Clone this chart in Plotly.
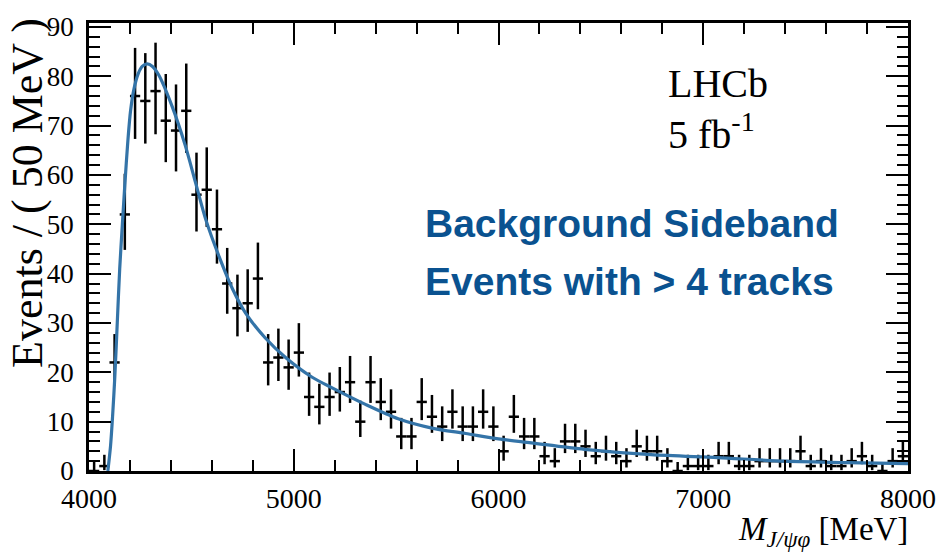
import numpy as np
import plotly.graph_objects as go

# ---- data ----
bin_centers = [4025 + 50 * i for i in range(80)]
counts = [
    0, 1, 22, 52, 76, 75, 77, 71, 69, 73,
    56, 57, 49, 38, 33, 34, 39, 22, 23, 21,
    24, 15, 13, 15, 16, 18, 10, 18, 14, 12,
    7, 7, 14, 11, 9, 12, 9, 9, 12, 9,
    4, 11, 7, 7, 3, 2, 6, 6, 5, 3,
    4, 3, 2, 5, 4, 4, 2, 0, 1, 1,
    1, 3, 3, 1, 1, 2, 2, 2, 2, 4,
    1, 2, 1, 1, 2, 3, 1, 0, 2, 3,
]

fit_x = [4092, 4105, 4115, 4126, 4138, 4150, 4163, 4175, 4190, 4203,
         4220, 4240, 4260, 4285, 4310, 4340, 4405, 4470, 4520, 4570,
         4635, 4700, 4765, 4860, 4960, 5090, 5190, 5350, 5510, 5675,
         5840, 6000, 6160, 6420, 6745, 7070, 7400, 7700, 8000]
fit_y = [0, 5, 11, 19, 30, 41, 50, 58, 67, 73,
         77.5, 80.5, 82, 82.5, 82, 80.3, 74, 66, 58.5, 51,
         43.5, 37, 32, 27, 23, 19, 16.8, 13.5, 10.6, 8.7,
         7.6, 6.5, 5.7, 4.4, 3.3, 2.7, 2.0, 1.7, 1.5]

x_ticks = [4000, 5000, 6000, 7000, 8000]
y_ticks = [0, 10, 20, 30, 40, 50, 60, 70, 80, 90]

# Poisson (Garwood-like) asymmetric errors from the counts
n = np.array(counts, dtype=float)
err_lo = np.where(n > 0, n - n * (1 - 1 / (9 * np.maximum(n, 1)) - 1 / (3 * np.sqrt(np.maximum(n, 1)))) ** 3, 0.0)
err_hi = (n + 1) * (1 - 1 / (9 * (n + 1)) + 1 / (3 * np.sqrt(n + 1))) ** 3 - n

SERIF = "Liberation Serif, Times New Roman, serif"
SANS = "Liberation Sans, Arial, sans-serif"

fig = go.Figure()
fig.add_trace(go.Scatter(
    x=bin_centers, y=counts, mode="markers",
    marker=dict(size=2, color="black"),
    error_x=dict(type="constant", value=25, width=0, thickness=2.5, color="black"),
    error_y=dict(type="data", symmetric=False, array=err_hi, arrayminus=err_lo,
                 width=0, thickness=2.5, color="black"),
    showlegend=False, hoverinfo="skip",
))
fig.add_trace(go.Scatter(
    x=fit_x, y=fit_y, mode="lines",
    line=dict(color="#3474a8", width=3.2, shape="spline", smoothing=0.8),
    showlegend=False, hoverinfo="skip",
))

axis_common = dict(
    showline=True, linecolor="black", linewidth=2.5, mirror="ticks",
    ticks="inside", ticklen=22, tickwidth=2, tickcolor="black",
    showgrid=False, zeroline=False,
)
fig.update_xaxes(range=[4000, 8000], tickvals=x_ticks, ticklabelstandoff=1,
                 tickfont=dict(family=SERIF, size=28, color="black"),
                 minor=dict(dtick=200, ticklen=11, ticks="inside", tickwidth=2, tickcolor="black", showgrid=False),
                 **axis_common)
fig.update_yaxes(range=[0, 90.8], tickvals=y_ticks, ticklabelstandoff=7,
                 tickfont=dict(family=SERIF, size=27, color="black"),
                 minor=dict(dtick=2, ticklen=11, ticks="inside", tickwidth=2, tickcolor="black", showgrid=False),
                 **axis_common)

annotations = [
    dict(text="<i>M</i><sub><i>J/ψφ</i></sub> [MeV]", xref="paper", yref="paper",
         x=1.0, y=-0.135, xanchor="right", yanchor="middle", showarrow=False, xshift=2,
         font=dict(family=SERIF, size=33, color="black")),
    dict(text="Events / ( 50 MeV )", xref="paper", yref="paper",
         x=-0.076, y=0.62, xanchor="center", yanchor="middle", textangle=-90, showarrow=False,
         font=dict(family=SERIF, size=44, color="black")),
    dict(text="LHCb", xref="paper", yref="paper",
         x=0.705, y=0.866, xanchor="left", yanchor="middle", showarrow=False,
         font=dict(family=SERIF, size=40, color="black")),
    dict(text="5 fb<sup>-1</sup>", xref="paper", yref="paper",
         x=0.705, y=0.757, xanchor="left", yanchor="middle", showarrow=False,
         font=dict(family=SERIF, size=40, color="black")),
    dict(text="<b>Background Sideband</b>", xref="paper", yref="paper",
         x=0.408, y=0.553, xanchor="left", yanchor="middle", showarrow=False,
         font=dict(family=SANS, size=39, color="#0a5290")),
    dict(text="<b>Events with > 4 tracks</b>", xref="paper", yref="paper",
         x=0.408, y=0.423, xanchor="left", yanchor="middle", showarrow=False,
         font=dict(family=SANS, size=39, color="#0a5290")),
]

fig.update_layout(
    width=948, height=555,
    margin=dict(l=89, r=34, t=14, b=84),
    paper_bgcolor="white", plot_bgcolor="white",
    annotations=annotations,
)

fig.write_html("out.html")
